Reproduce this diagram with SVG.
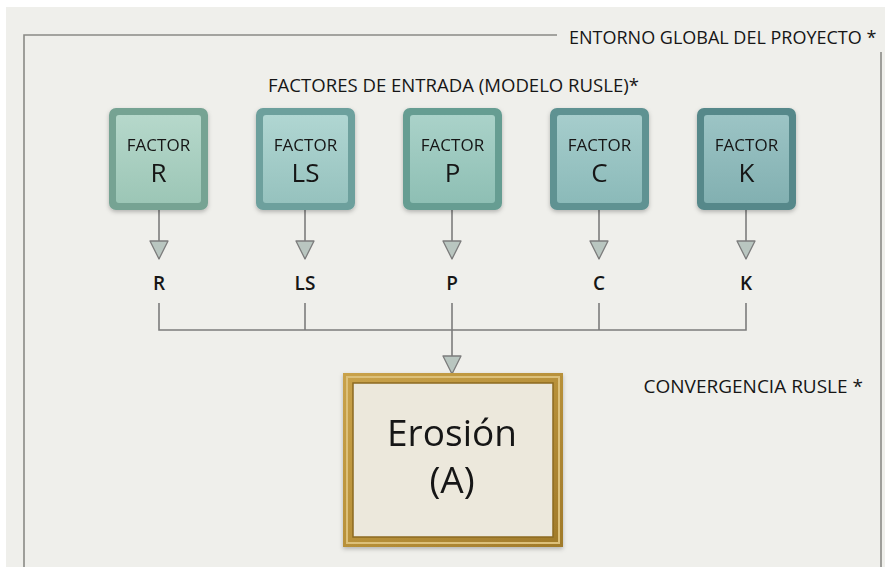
<svg xmlns="http://www.w3.org/2000/svg" width="885" height="567" viewBox="0 0 885 567">
<defs>
<style>
.t{font-family:"Open Sans","Liberation Sans",sans-serif;fill:#161616}
.hd{font-size:18px}
.ft{font-size:17px;text-anchor:middle}
.fl{font-size:26px;text-anchor:middle}
.lb{font-size:19px;font-weight:600;text-anchor:middle}
.conn{stroke:#7c7c7c;stroke-width:1.6;fill:none}
.frame{fill:none;stroke:#8a8a86;stroke-width:1.6}
</style>
<marker id="ah" viewBox="0 0 20 20" refX="19" refY="10" markerWidth="20" markerHeight="20" markerUnits="userSpaceOnUse" orient="auto">
<path d="M1,1 L1,19 L19,10 Z" fill="#b9c6c0" stroke="#7c7c7c" stroke-width="1.3" stroke-linejoin="round"/>
</marker>
<linearGradient id="gR" x1="0" y1="0" x2="0" y2="1"><stop offset="0" stop-color="#b6d8cb"/><stop offset="1" stop-color="#9cc6b6"/></linearGradient>
<linearGradient id="gLS" x1="0" y1="0" x2="0" y2="1"><stop offset="0" stop-color="#b0d6d2"/><stop offset="1" stop-color="#96c2be"/></linearGradient>
<linearGradient id="gP" x1="0" y1="0" x2="0" y2="1"><stop offset="0" stop-color="#aad2c9"/><stop offset="1" stop-color="#8ebfb4"/></linearGradient>
<linearGradient id="gC" x1="0" y1="0" x2="0" y2="1"><stop offset="0" stop-color="#a6cdcc"/><stop offset="1" stop-color="#8bbab9"/></linearGradient>
<linearGradient id="gK" x1="0" y1="0" x2="0" y2="1"><stop offset="0" stop-color="#9cc4c5"/><stop offset="1" stop-color="#82b0b1"/></linearGradient>
<linearGradient id="gold" x1="0" y1="0" x2="1" y2="1"><stop offset="0" stop-color="#c9a24a"/><stop offset="0.5" stop-color="#b8913a"/><stop offset="1" stop-color="#a07a2a"/></linearGradient>
<filter id="sh" x="-10%" y="-10%" width="120%" height="125%"><feDropShadow dx="0" dy="2" stdDeviation="2" flood-color="#000" flood-opacity="0.25"/></filter>
</defs>
<rect x="0" y="0" width="885" height="567" fill="#ffffff"/>
<rect x="6" y="7" width="879" height="560" fill="#efefeb"/>
<g id="frame">
<path class="frame" d="M24,567 L24,35 L557,35"/>
<path class="frame" d="M881,52 L881,567"/>
<text class="t" x="569" y="44" font-size="18">ENTORNO GLOBAL DEL PROYECTO *</text>
</g>
<text class="t hd" x="268" y="92" textLength="371" lengthAdjust="spacingAndGlyphs">FACTORES DE ENTRADA (MODELO RUSLE)*</text>
<text class="t" x="863" y="393" font-size="19" text-anchor="end">CONVERGENCIA RUSLE *</text>
<g id="connectors">
<line class="conn" x1="159" y1="210" x2="159" y2="259" marker-end="url(#ah)"/>
<line class="conn" x1="305" y1="210" x2="305" y2="259" marker-end="url(#ah)"/>
<line class="conn" x1="452" y1="210" x2="452" y2="259" marker-end="url(#ah)"/>
<line class="conn" x1="599" y1="210" x2="599" y2="259" marker-end="url(#ah)"/>
<line class="conn" x1="746" y1="210" x2="746" y2="259" marker-end="url(#ah)"/>
<path class="conn" d="M159,303 L159,330 L746,330 L746,303"/>
<line class="conn" x1="305" y1="303" x2="305" y2="330"/>
<line class="conn" x1="599" y1="303" x2="599" y2="330"/>
<line class="conn" x1="452" y1="303" x2="452" y2="374" marker-end="url(#ah)"/>
</g>
<g id="labels">
<text class="t lb" x="159" y="290">R</text>
<text class="t lb" x="305" y="290">LS</text>
<text class="t lb" x="452" y="290">P</text>
<text class="t lb" x="599" y="290">C</text>
<text class="t lb" x="746" y="290">K</text>
</g>
<g id="factorR" filter="url(#sh)">
<rect x="109" y="108" width="99" height="102" rx="7" fill="#76a393"/>
<rect x="116" y="115" width="85" height="88" rx="3" fill="url(#gR)"/>
<text class="t ft" x="158.5" y="151">FACTOR</text>
<text class="t fl" x="158.5" y="182">R</text>
</g>
<g id="factorLS" filter="url(#sh)">
<rect x="256" y="108" width="99" height="102" rx="7" fill="#6da09d"/>
<rect x="263" y="115" width="85" height="88" rx="3" fill="url(#gLS)"/>
<text class="t ft" x="305.5" y="151">FACTOR</text>
<text class="t fl" x="305.5" y="182">LS</text>
</g>
<g id="factorP" filter="url(#sh)">
<rect x="403" y="108" width="99" height="102" rx="7" fill="#669d92"/>
<rect x="410" y="115" width="85" height="88" rx="3" fill="url(#gP)"/>
<text class="t ft" x="452.5" y="151">FACTOR</text>
<text class="t fl" x="452.5" y="182">P</text>
</g>
<g id="factorC" filter="url(#sh)">
<rect x="550" y="108" width="99" height="102" rx="7" fill="#5f9292"/>
<rect x="557" y="115" width="85" height="88" rx="3" fill="url(#gC)"/>
<text class="t ft" x="599.5" y="151">FACTOR</text>
<text class="t fl" x="599.5" y="182">C</text>
</g>
<g id="factorK" filter="url(#sh)">
<rect x="697" y="108" width="99" height="102" rx="7" fill="#56888a"/>
<rect x="704" y="115" width="85" height="88" rx="3" fill="url(#gK)"/>
<text class="t ft" x="746.5" y="151">FACTOR</text>
<text class="t fl" x="746.5" y="182">K</text>
</g>
<g id="erosion" filter="url(#sh)">
<rect x="343" y="373" width="220" height="174" fill="url(#gold)"/>
<rect x="347" y="377" width="212" height="166" fill="none" stroke="#dcc07a" stroke-width="2"/>
<rect x="353" y="383" width="200" height="154" fill="#ece8dc" stroke="#8c6a22" stroke-width="1.5"/>
<text class="t" x="452" y="446" font-size="37" text-anchor="middle">Erosión</text>
<text class="t" x="452" y="493" font-size="37" text-anchor="middle">(A)</text>
</g>
</svg>
